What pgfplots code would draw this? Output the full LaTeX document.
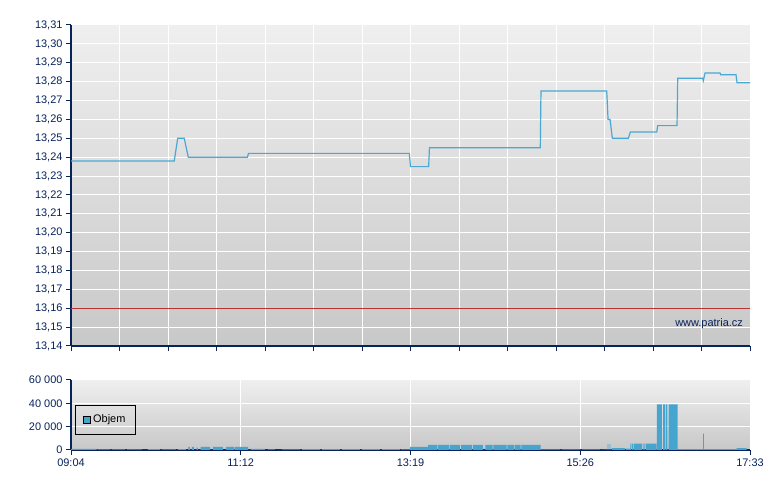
\documentclass[border=0pt]{standalone}
\usepackage{pgfplots}
\pgfplotsset{compat=1.18}
\usepackage{fontspec}
\setmainfont{Liberation Sans}
\definecolor{navy}{RGB}{8,34,92}
\definecolor{lineblue}{RGB}{74,168,210}
\definecolor{volblue}{RGB}{70,165,207}
\definecolor{bgtop}{RGB}{239,239,239}
\definecolor{bgbot}{RGB}{200,200,200}
\definecolor{refred}{RGB}{190,50,50}
\pgfplotsset{
  commonstyle/.style={
    scale only axis,
    axis lines=left,
    axis line style={-, draw=navy, line width=1.3bp},
    every outer x axis line/.append style={-},
    every outer y axis line/.append style={-},
    tick align=outside,
    major tick length=5bp,
    tick style={draw=navy, line width=1bp},
    grid=major,
    grid style={white, line width=1bp},
    axis background/.style={top color=bgtop, bottom color=bgbot},
    tick label style={font=\fontsize{11}{13}\selectfont, text=navy},
    /pgf/number format/assume math mode=true,
    xmin=0, xmax=509,
    clip=false,
  }
}
\begin{document}
\begin{tikzpicture}
\path[use as bounding box] (0,0) rectangle (780bp,490bp);
% ---------------- price panel ----------------
\begin{axis}[commonstyle,
  at={(71bp,144bp)}, anchor=south west,
  width=679bp, height=321bp,
  ymin=13.14, ymax=13.31,
  ytick={13.14,13.15,13.16,13.17,13.18,13.19,13.20,13.21,13.22,13.23,13.24,13.25,13.26,13.27,13.28,13.29,13.30,13.31},
  scaled y ticks=false,
  yticklabel style={/pgf/number format/.cd, fixed, fixed zerofill, precision=2, use comma},
  xtick={0,36.357,72.714,109.071,145.429,181.786,218.143,254.5,290.857,327.214,363.571,399.929,436.286,472.643,509},
  xticklabels={},
]
\addplot[refred, line width=1bp] coordinates {(0,13.16) (509,13.16)};
\addplot[lineblue, line width=1.2bp] coordinates {
(0,13.238) (77.4,13.238) (80.0,13.25) (84.9,13.25) (87.9,13.24) (132.2,13.24)
(133.1,13.242) (253.6,13.242) (254.5,13.235) (268.1,13.235) (268.7,13.245)
(351.8,13.245) (352.3,13.275) (401.6,13.275) (402.6,13.26) (404.1,13.26)
(405.8,13.25) (417.8,13.25) (419.3,13.2533) (439.1,13.2533) (439.8,13.2567)
(454.3,13.2567) (454.8,13.2818) (473.5,13.2818) (474.0,13.2805) (475.3,13.2846)
(486.5,13.2846) (487.0,13.2837) (498.5,13.2837) (499.3,13.2794) (509,13.2794)
};
\node[anchor=east, text=navy, font=\fontsize{11}{13}\selectfont, inner sep=0pt] at (axis cs:503.8,13.152) {www.patria.cz};
\end{axis}
% ---------------- volume panel ----------------
\begin{axis}[commonstyle,
  at={(71bp,40bp)}, anchor=south west,
  width=679bp, height=70bp,
  ymin=0, ymax=60000,
  ytick={0,20000,40000,60000},
  scaled y ticks=false,
  yticklabel style={/pgf/number format/.cd, fixed, 1000 sep={\ }},
  xtick={0,127.25,254.5,381.75,509},
  xticklabels={09:04,11:12,13:19,15:26,17:33},
  legend style={at={(0.0063,0.643)}, anchor=north west, fill=none, draw=black, line width=0.8bp,
    font=\fontsize{11}{13}\selectfont, inner xsep=7.5bp, inner ysep=7.6bp, text=black},
  legend cell align=left,
]
\addplot[draw=none, fill=volblue, const plot mark left,
  legend image code/.code={\draw[fill=volblue, draw=black, line width=0.8bp] (0bp,-3.6bp) rectangle (7.2bp,3.6bp);}]
coordinates {
(0,1000) (19.3,0) (20.2,600) (29.2,0) (30.7,500) (40.5,0) (42.0,600) (53.2,0)
(57.7,700) (66.7,0) (68.2,600) (78.7,0) (80.2,700) (86.2,0)
(87.9,2600) (89.2,0) (90.7,2600) (92.2,0) (94.1,2000) (95.2,0) (97.2,2600) (104.2,0)
(106.4,2600) (113.9,0) (116.2,2600) (122.2,0) (122.9,2600) (132.7,0)
(134.9,900) (145.4,0) (147.7,600) (152.9,0) (158.2,600) (171.7,0) (173.2,700) (186.7,0)
(188.2,700) (201.6,0) (203.1,700) (216.6,0) (218.1,700) (231.6,0) (233.1,700) (246.6,0)
(247.4,600) (254.1,0) (254.3,2600) (267.6,0)
(267.8,4300) (274.4,0) (275.1,4300) (283.4,0) (284.1,4300) (291.6,0) (292.4,4300) (300.6,0)
(301.4,4300) (308.8,0) (310.7,4300) (316.0,0) (316.7,4300) (326.5,0) (327.2,4300) (332.1,0)
(332.8,4300) (337.0,0) (337.7,4300) (352.1,0)
(352.3,600) (366.6,0) (368.1,500) (381.6,0) (383.1,500) (396.6,0) (398.1,400) (401.8,0)
(402.2,5000) (402.9,0) (403.7,5000) (404.4,0) (405.5,1500) (415.3,0) (416.1,1200) (419.1,0)
(419.3,5400) (419.8,0) (420.5,5400) (421.3,0) (422.0,5400) (428.2,0) (429.0,5400) (430.0,0)
(430.8,5400) (438.9,0)
(439.1,39000) (442.9,0) (443.8,39000) (445.3,0) (446.0,39000) (447.1,0) (447.9,39000) (454.8,0)
(455.0,800) (473.6,0) (473.8,14000) (474.4,0) (474.6,700) (498.9,0) (499.0,1700) (506.5,0)
} \closedcycle;
\addlegendentry{Objem}
\end{axis}
\end{tikzpicture}
\end{document}
